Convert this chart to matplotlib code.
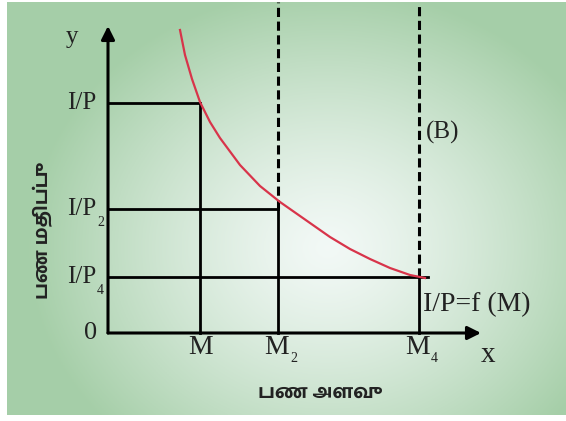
import numpy as np
import matplotlib
matplotlib.use('Agg')
import matplotlib.pyplot as plt

# curve I/P = f(M), measured from the origin of the axes
curve_x = [72, 77, 84, 92, 102, 112, 132, 152, 172, 192, 202, 222, 242, 262, 282, 302, 317]
curve_y = [303, 278, 254, 231, 211, 195, 168, 147, 131, 117, 110, 96, 84, 74, 65, 58, 55]

m_pos = [92, 170, 311]          # M, M2, M4
p_levels = [230, 124, 56]       # I/P, I/P2, I/P4
m_labels = ['M', 'M', 'M']
m_subs = ['', '2', '4']
p_labels = ['I/P', 'I/P', 'I/P']
p_subs = ['', '2', '4']

fig = plt.figure(figsize=(5.66, 4.21), dpi=100)
ax = fig.add_axes([0, 0, 1, 1])
ax.set_xlim(-108, 458)
ax.set_ylim(-88, 333)
ax.axis('off')

# green background with a pale centre
gx = np.linspace(-101, 458, 300)
gy = np.linspace(-82, 331, 240)
X, Y = np.meshgrid(gx, gy)
r = np.sqrt(((X - 220) / 300) ** 2 + ((Y - 85) / 260) ** 2)
t = np.clip(r, 0, 1) ** 1.3
c0 = np.array([0.95, 0.975, 0.965])
c1 = np.array([0.65, 0.81, 0.66])
img = c0 + (c1 - c0) * t[..., None]
ax.imshow(img, extent=[-101, 458, -82, 331], origin='lower', aspect='auto', zorder=0)

serif = 'Liberation Serif'
tam = ['Hind Madurai', 'Catamaran', 'FreeSans', 'DejaVu Sans']
k = 'black'
tc = '#222222'

# axes with arrows
ax.annotate('', xy=(0, 307), xytext=(0, 0),
            arrowprops=dict(arrowstyle='-|>', lw=2.2, color=k, mutation_scale=20, shrinkA=0, shrinkB=0))
ax.annotate('', xy=(373, 0), xytext=(0, 0),
            arrowprops=dict(arrowstyle='-|>', lw=2.2, color=k, mutation_scale=20, shrinkA=0, shrinkB=0))

# rectangles under the curve
ax.plot([0, m_pos[0]], [p_levels[0], p_levels[0]], color=k, lw=2)
ax.plot([m_pos[0], m_pos[0]], [0, p_levels[0]], color=k, lw=2)
ax.plot([0, m_pos[1]], [p_levels[1], p_levels[1]], color=k, lw=2)
ax.plot([m_pos[1], m_pos[1]], [0, p_levels[1]], color=k, lw=2)
ax.plot([m_pos[1], m_pos[1]], [p_levels[1], 331], color=k, lw=2.2, ls=(0, (3, 1.5)))
ax.plot([0, 320], [p_levels[2], p_levels[2]], color=k, lw=2)
ax.plot([m_pos[2], m_pos[2]], [0, p_levels[2]], color=k, lw=2)
ax.plot([m_pos[2], m_pos[2]], [p_levels[2], 331], color=k, lw=2.2, ls=(0, (3, 1.5)))

ax.plot(curve_x, curve_y, color='#d8344a', lw=1.6, zorder=5)

# labels
for lab, sub, yv in zip(p_labels, p_subs, p_levels):
    ax.text(-12, yv, lab, fontsize=18, family=serif, ha='right', va='center', color=tc)
    if sub:
        ax.text(-11, yv - 14, sub, fontsize=10, family=serif, ha='left', va='center', color=tc)
for lab, sub, xv in zip(m_labels, m_subs, m_pos):
    if sub:
        ax.text(xv + 11, -15, lab, fontsize=20, family=serif, ha='right', va='center', color=tc)
        ax.text(xv + 12, -25, sub, fontsize=10, family=serif, ha='left', va='center', color=tc)
    else:
        ax.text(xv + 1, -15, lab, fontsize=20, family=serif, ha='center', va='center', color=tc)
ax.text(-17, 0, '0', fontsize=19, family=serif, ha='center', va='center', color=tc)
ax.text(-36, 296, 'y', fontsize=18, family=serif, ha='center', va='center', color=tc)
ax.text(380, -22, 'x', fontsize=21, family=serif, ha='center', va='center', color=tc)
ax.text(318, 201, '(B)', fontsize=18, family=serif, ha='left', va='center', color=tc)
ax.text(315, 28, 'I/P=f (M)', fontsize=20, family=serif, ha='left', va='center', color=tc)

ax.text(-65, 98, 'பண மதிப்பு', fontsize=14, family=tam, fontweight='bold',
        rotation=90, ha='center', va='center', color=tc)
ax.text(208, -60, 'பண அளவு', fontsize=14, family=tam, fontweight='bold',
        ha='center', va='center', color=tc)

fig.savefig('out.png', dpi=100)
